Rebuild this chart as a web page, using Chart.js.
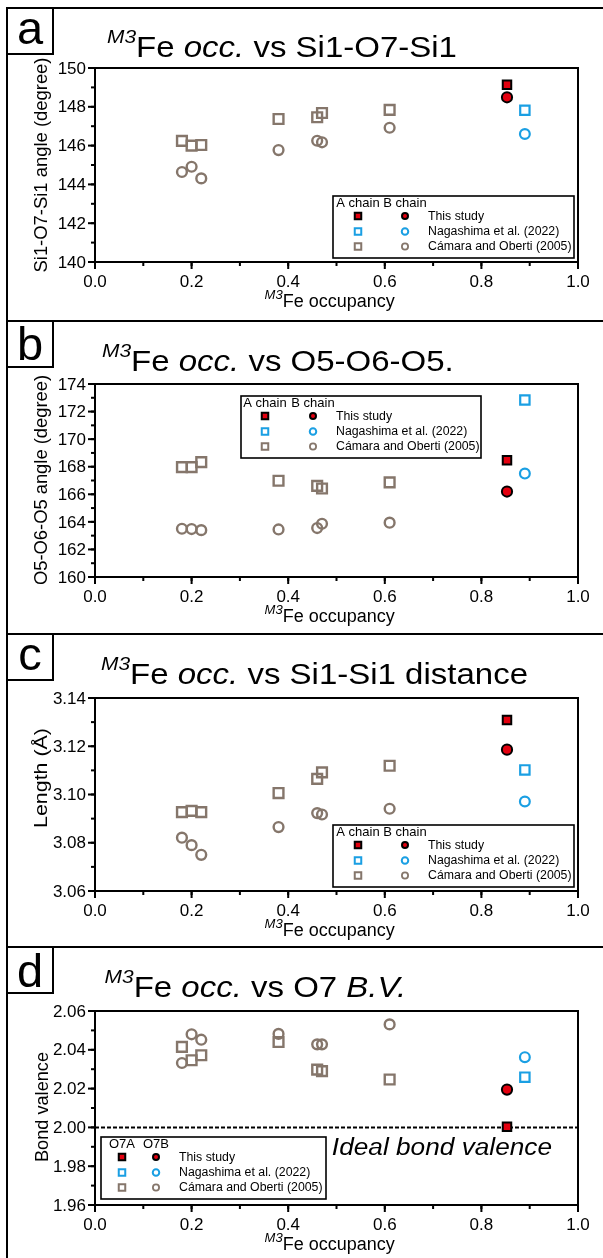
<!DOCTYPE html>
<html>
<head>
<meta charset="utf-8">
<script src="https://cdn.jsdelivr.net/npm/chart.js@4.4.1/dist/chart.umd.min.js"></script>
<style>
html,body{margin:0;padding:0;background:#fff;}
#fig{position:relative;width:603px;height:1258px;overflow:hidden;background:#fff;}
canvas{position:absolute;left:0;display:block;}
</style>
</head>
<body>
<div id="fig"></div>
<script>
// ---------------- DATA ----------------
const xCamara    = [0.18, 0.20, 0.22, 0.38, 0.46, 0.47, 0.61];
const xThisStudy = [0.853];
const xNagashima = [0.89];

// (a) Si1-O7-Si1 angle (degree)
const angleA_camaraA = [146.24, 146.00, 146.03, 147.37, 147.46, 147.68, 147.84];
const angleA_camaraB = [144.64, 144.91, 144.31, 145.77, 146.25, 146.17, 146.92];
const angleA_thisA = [149.14], angleA_thisB = [148.49];
const angleA_nagA  = [147.82], angleA_nagB  = [146.60];

// (b) O5-O6-O5 angle (degree)
const angleB_camaraA = [167.97, 167.97, 168.33, 166.98, 166.61, 166.42, 166.86];
const angleB_camaraB = [163.50, 163.48, 163.40, 163.45, 163.55, 163.86, 163.94];
const angleB_thisA = [168.47], angleB_thisB = [166.20];
const angleB_nagA  = [172.84], angleB_nagB  = [167.50];

// (c) Si1-Si1 distance (Å)
const dist_camaraA = [3.0927, 3.0932, 3.0927, 3.1006, 3.1065, 3.1092, 3.1119];
const dist_camaraB = [3.0821, 3.0790, 3.0750, 3.0865, 3.0923, 3.0917, 3.0941];
const dist_thisA = [3.1309], dist_thisB = [3.1186];
const dist_nagA  = [3.1102], dist_nagB  = [3.0971];

// (d) O7 bond valence
const bv_camaraA = [2.0415, 2.0346, 2.0372, 2.0440, 2.0298, 2.0290, 2.0247];
const bv_camaraB = [2.0332, 2.0480, 2.0452, 2.0482, 2.0428, 2.0428, 2.0531];
const bv_thisA = [2.0003], bv_thisB = [2.0195];
const bv_nagA  = [2.0259], bv_nagB  = [2.0362];
const idealBV = 2.00;

// tick labels
const xTickLabels  = ['0.0','0.2','0.4','0.6','0.8','1.0'];
const aTickLabels  = ['140','142','144','146','148','150'];
const bTickLabels  = ['160','162','164','166','168','170','172','174'];
const cTickLabels  = ['3.06','3.08','3.10','3.12','3.14'];
const dTickLabels  = ['1.96','1.98','2.00','2.02','2.04','2.06'];

const legendNames = ['This study', 'Nagashima et al. (2022)', 'Cámara and Oberti (2005)'];

// ---------------- STYLE ----------------
const FONT = '"Liberation Sans", Arial, Helvetica, sans-serif';
const BROWN = '#85766b', BLUE = '#1a9fe3', RED = '#e3000f';

function pts(xs, ys){ return xs.map((x,i)=>({x:x, y:ys[i]})); }

function rich(ctx, parts, x, y, sx, align){
  ctx.save();
  let w = 0;
  for (const p of parts){ ctx.font = p.f; w += ctx.measureText(p.t).width; }
  let x0 = x;
  if (align === 'center') x0 = x - w*sx/2; else if (align === 'right') x0 = x - w*sx;
  ctx.translate(x0, y); ctx.scale(sx, 1);
  ctx.textAlign = 'left'; ctx.textBaseline = 'alphabetic'; ctx.fillStyle = '#000';
  let cx = 0;
  for (const p of parts){ ctx.font = p.f; ctx.fillText(p.t, cx, p.dy || 0); cx += ctx.measureText(p.t).width; }
  ctx.restore();
  return w;
}

function marker(ctx, style, x, y, size, fill, stroke, lw){
  ctx.save();
  ctx.beginPath();
  const s = size - lw;
  if (style === 'rect') ctx.rect(x - s/2, y - s/2, s, s);
  else ctx.arc(x, y, s/2, 0, Math.PI*2);
  ctx.fillStyle = fill; ctx.fill();
  ctx.lineWidth = lw; ctx.strokeStyle = stroke; ctx.stroke();
  ctx.restore();
}

const deco = {
  id: 'deco',
  beforeDatasetsDraw(chart, args, o){
    const ctx = chart.ctx, ca = chart.chartArea;
    if (o.hline !== undefined){
      const yp = chart.scales.y.getPixelForValue(o.hline);
      ctx.save(); ctx.strokeStyle = '#000'; ctx.lineWidth = 2; ctx.setLineDash([4,2]);
      ctx.beginPath(); ctx.moveTo(ca.left, yp); ctx.lineTo(ca.right, yp); ctx.stroke(); ctx.restore();
    }
  },
  afterDraw(chart, args, o){
    const ctx = chart.ctx, ca = chart.chartArea, xs = chart.scales.x, ys = chart.scales.y;
    ctx.save();
    // figure frame
    ctx.fillStyle = '#000';
    ctx.fillRect(6, o.lineY, 597, 2);
    ctx.fillRect(6, o.lineY, 2, chart.height - o.lineY);
    // panel letter box
    ctx.fillStyle = '#fff'; ctx.fillRect(8, o.lineY+2, 44, 44);
    ctx.lineWidth = 2; ctx.strokeStyle = '#000';
    ctx.strokeRect(7, o.lineY+1, 46, 46);
    ctx.fillStyle = '#000'; ctx.font = '47px ' + FONT; ctx.textAlign = 'center'; ctx.textBaseline = 'alphabetic';
    ctx.fillText(o.letter, 30, o.lineY + o.letterDy);
    // title
    rich(ctx, o.title, o.titleX, o.titleY, 1.1, 'left');
    // plot frame
    ctx.lineWidth = 2; ctx.strokeStyle = '#000';
    ctx.strokeRect(ca.left, ca.top, ca.right - ca.left, ca.bottom - ca.top);
    // y ticks
    ctx.fillStyle = '#000';
    for (let v = o.yMin; v <= o.yMax + 1e-9; v += o.yMinor){
      const yp = ys.getPixelForValue(v);
      ctx.fillRect(ca.left - 4, yp - 1, 4, 2);
    }
    ctx.font = '17px ' + FONT; ctx.textAlign = 'right'; ctx.textBaseline = 'middle';
    for (const lab of o.yLabels){
      const yp = ys.getPixelForValue(parseFloat(lab));
      ctx.fillRect(ca.left - 7, yp - 1, 7, 2);
      ctx.fillText(lab, ca.left - 9, yp + 1);
    }
    // x ticks
    for (let v = 0; v <= 1 + 1e-9; v += 0.1){
      const xp = xs.getPixelForValue(v);
      ctx.fillRect(xp - 1, ca.bottom, 2, 4);
    }
    ctx.textAlign = 'center'; ctx.textBaseline = 'alphabetic';
    for (const lab of xTickLabels){
      const xp = xs.getPixelForValue(parseFloat(lab));
      ctx.fillRect(xp - 1, ca.bottom, 2, 7);
      ctx.fillText(lab, xp, ca.bottom + 25);
    }
    // x title
    rich(ctx, [{t:'M3', f:'italic 13px ' + FONT, dy:-8}, {t:'Fe occupancy', f:'18px ' + FONT}], 264.6, ca.bottom + 45, 1.0, 'left');
    // y title (rotated)
    ctx.save();
    ctx.translate(o.yTitleX, o.yTitleY); ctx.rotate(-Math.PI/2);
    ctx.font = '18px ' + FONT;
    const nw = ctx.measureText(o.yTitle).width;
    rich(ctx, [{t:o.yTitle, f:'18px ' + FONT}], 0, 0, o.yTitleW / nw, 'center');
    ctx.restore();
    // note text
    if (o.note){
      rich(ctx, [{t:o.note.t, f:'italic 23px ' + FONT}], o.note.x, o.note.y, 1.14, 'right');
    }
    // legend
    const L = o.legend;
    ctx.fillStyle = '#fff'; ctx.fillRect(L.x, L.y, L.w, L.h);
    ctx.lineWidth = 1.6; ctx.strokeStyle = '#000'; ctx.strokeRect(L.x, L.y, L.w, L.h);
    ctx.fillStyle = '#000'; ctx.font = '13px ' + FONT; ctx.textAlign = 'center'; ctx.textBaseline = 'middle';
    ctx.fillText(L.heads[0], L.x + L.cs, L.y + 7.5);
    ctx.fillText(L.heads[1], L.x + L.cc, L.y + 7.5);
    const rows = [20, 35.5, 50.5];
    const sq = [[RED,'#000',2],[ '#fff', BLUE, 2],['#fff', BROWN, 2]];
    const ci = [[RED,'#000',2, 8],[ '#fff', BLUE, 2, 8.5],['#fff', BROWN, 1.8, 8]];
    for (let i = 0; i < 3; i++){
      const yy = L.y + rows[i];
      marker(ctx, 'rect', L.x + L.cs, yy, 8.5, sq[i][0], sq[i][1], sq[i][2]);
      marker(ctx, 'circle', L.x + L.cc, yy, ci[i][3], ci[i][0], ci[i][1], ci[i][2]);
      ctx.fillStyle = '#000'; ctx.font = '12.3px ' + FONT; ctx.textAlign = 'left'; ctx.textBaseline = 'middle';
      ctx.fillText(legendNames[i], L.x + L.ct, yy + 0.5);
    }
    ctx.restore();
  }
};

function titleParts(rest){
  return [{t:'M3', f:'italic 19px ' + FONT, dy:-14}].concat(rest);
}
const T30 = '30px ' + FONT, I30 = 'italic 30px ' + FONT;

const panels = [
  { top:0, h:320, lineY:7, letter:'a', letterDy:37, padTop:68, padBottom:58,
    title: titleParts([{t:'Fe ', f:T30},{t:'occ.', f:I30},{t:' vs Si1-O7-Si1', f:T30}]), titleX:107, titleY:57,
    yMin:140, yMax:150, yMinor:1, yLabels:aTickLabels,
    yTitle:'Si1-O7-Si1 angle (degree)', yTitleW:215, yTitleX:47, yTitleY:165,
    legend:{x:333, y:196, w:241, h:62, heads:['A chain','B chain'], cs:25, cc:72, ct:95},
    s:[angleA_camaraA, angleA_camaraB, angleA_nagA, angleA_nagB, angleA_thisA, angleA_thisB] },
  { top:320, h:313, lineY:0, letter:'b', letterDy:40, padTop:64, padBottom:56,
    title: titleParts([{t:'Fe ', f:T30},{t:'occ.', f:I30},{t:' vs O5-O6-O5.', f:T30}]), titleX:102, titleY:51,
    yMin:160, yMax:174, yMinor:1, yLabels:bTickLabels,
    yTitle:'O5-O6-O5 angle (degree)', yTitleW:210, yTitleX:47, yTitleY:160,
    legend:{x:241, y:76, w:240, h:62, heads:['A chain','B chain'], cs:24, cc:72, ct:95},
    s:[angleB_camaraA, angleB_camaraB, angleB_nagA, angleB_nagB, angleB_thisA, angleB_thisB] },
  { top:633, h:313, lineY:0, letter:'c', letterDy:37, padTop:65, padBottom:55,
    title: titleParts([{t:'Fe ', f:T30},{t:'occ.', f:I30},{t:' vs Si1-Si1 distance', f:T30}]), titleX:101, titleY:51,
    yMin:3.06, yMax:3.14, yMinor:0.01, yLabels:cTickLabels,
    yTitle:'Length (Å)', yTitleW:100, yTitleX:47, yTitleY:145,
    legend:{x:333, y:192, w:241, h:62, heads:['A chain','B chain'], cs:25, cc:72, ct:95},
    s:[dist_camaraA, dist_camaraB, dist_nagA, dist_nagB, dist_thisA, dist_thisB] },
  { top:946, h:312, lineY:0, letter:'d', letterDy:41, padTop:65, padBottom:53,
    title: titleParts([{t:'Fe ', f:T30},{t:'occ.', f:I30},{t:' vs O7 ', f:T30},{t:'B.V.', f:I30}]), titleX:104.6, titleY:51,
    yMin:1.96, yMax:2.06, yMinor:0.01, yLabels:dTickLabels,
    yTitle:'Bond valence', yTitleW:110, yTitleX:48, yTitleY:161,
    legend:{x:101, y:191, w:225, h:62, heads:['O7A','O7B'], cs:21, cc:55, ct:78},
    note:{t:'Ideal bond valence', x:552, y:209}, hline: idealBV,
    s:[bv_camaraA, bv_camaraB, bv_nagA, bv_nagB, bv_thisA, bv_thisB] }
];

const fig = document.getElementById('fig');
panels.forEach((p, k) => {
  const cv = document.createElement('canvas');
  cv.width = 603; cv.height = p.h; cv.style.top = p.top + 'px';
  cv.style.width = '603px'; cv.style.height = p.h + 'px';
  fig.appendChild(cv);
  const ds = (data, xs, style, r, fill, stroke, bw) => ({
    data: pts(xs, data), pointStyle: style, pointRadius: r, pointHoverRadius: r,
    pointBackgroundColor: fill, pointBorderColor: stroke, pointBorderWidth: bw, showLine: false
  });
  new Chart(cv, {
    type: 'scatter',
    data: { datasets: [
      ds(p.s[0], xCamara, 'rect', 6.9, 'rgba(255,255,255,0)', BROWN, 2.4),
      ds(p.s[1], xCamara, 'circle', 4.9, 'rgba(255,255,255,0)', BROWN, 2.4),
      ds(p.s[2], xNagashima, 'rect', 6.6, 'rgba(255,255,255,0)', BLUE, 2.2),
      ds(p.s[3], xNagashima, 'circle', 4.9, 'rgba(255,255,255,0)', BLUE, 2.2),
      ds(p.s[4], xThisStudy, 'rect', 6.0, RED, '#000', 2),
      ds(p.s[5], xThisStudy, 'circle', 5.1, RED, '#000', 2)
    ]},
    options: {
      responsive: false, animation: false, devicePixelRatio: 1,
      events: [],
      layout: { padding: { left: 95, right: 25, top: p.padTop, bottom: p.padBottom } },
      scales: {
        x: { type: 'linear', min: 0, max: 1, grid: {display: false}, border: {display: false},
             ticks: {display: false}, afterFit(s){ s.height = 0; } },
        y: { type: 'linear', min: p.yMin, max: p.yMax, grid: {display: false}, border: {display: false},
             ticks: {display: false}, afterFit(s){ s.width = 0; } }
      },
      plugins: { legend: {display: false}, tooltip: {enabled: false}, deco: p }
    },
    plugins: [deco]
  });
});
</script>
</body>
</html>
